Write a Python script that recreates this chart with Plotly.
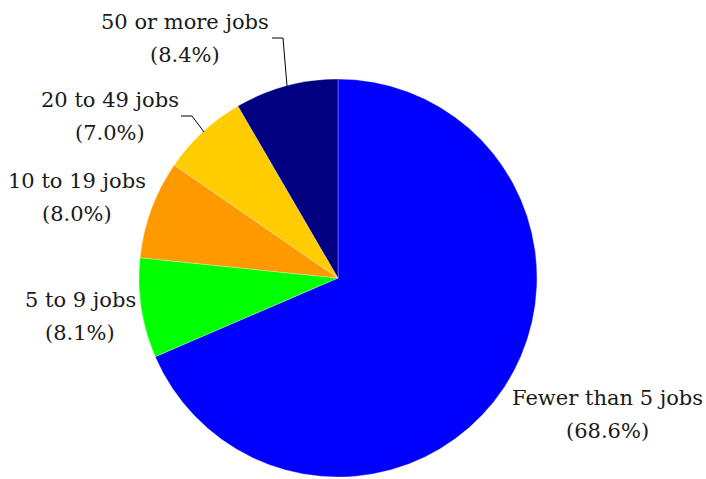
import plotly.graph_objects as go

# Share of businesses by number of jobs
categories = ["Fewer than 5 jobs", "5 to 9 jobs", "10 to 19 jobs", "20 to 49 jobs", "50 or more jobs"]
shares = [68.6, 8.1, 8.0, 7.0, 8.4]
colors = ["#0000FF", "#00FF00", "#FF9900", "#FFCC00", "#000080"]

W, H = 706, 479
CX, CY, R = 338, 278, 199

# label anchor (centre of the name line, in pixels from top-left)
label_pos = [(607, 398), (80, 300), (77, 181), (110, 100), (185, 22)]
LINE_GAP = 33

# leader lines (pixel polylines) for the crowded labels
leaders = {
    3: [(181, 116), (192, 116), (204, 132)],
    4: [(272, 38), (283, 38), (287, 86)],
}


def px(x):
    return x / W


def py(y):
    return 1 - y / H


fig = go.Figure(
    go.Pie(
        labels=categories,
        values=shares,
        sort=False,
        direction="clockwise",
        rotation=0,
        textinfo="none",
        hoverinfo="label+percent",
        marker=dict(colors=colors, line=dict(color="white", width=0.3)),
        domain=dict(x=[px(CX - R), px(CX + R)], y=[py(CY + R), py(CY - R)]),
        showlegend=False,
    )
)

font = dict(family="DejaVu Serif", size=21, color="#1a1a1a")
annotations = []
for name, val, (x, y) in zip(categories, shares, label_pos):
    annotations.append(dict(x=px(x), y=py(y), xref="paper", yref="paper", text=name,
                            showarrow=False, font=font, xanchor="center", yanchor="middle"))
    annotations.append(dict(x=px(x), y=py(y + LINE_GAP), xref="paper", yref="paper",
                            text=f"({val:.1f}%)", showarrow=False, font=font,
                            xanchor="center", yanchor="middle"))

shapes = []
for pts in leaders.values():
    path = "M " + " L ".join(f"{px(x)},{py(y)}" for x, y in pts)
    shapes.append(dict(type="path", path=path, xref="paper", yref="paper",
                       line=dict(color="black", width=1)))

fig.update_layout(
    width=W,
    height=H,
    margin=dict(l=0, r=0, t=0, b=0),
    paper_bgcolor="white",
    plot_bgcolor="white",
    font=dict(family="DejaVu Serif"),
    annotations=annotations,
    shapes=shapes,
)

fig.write_html("out.html")
